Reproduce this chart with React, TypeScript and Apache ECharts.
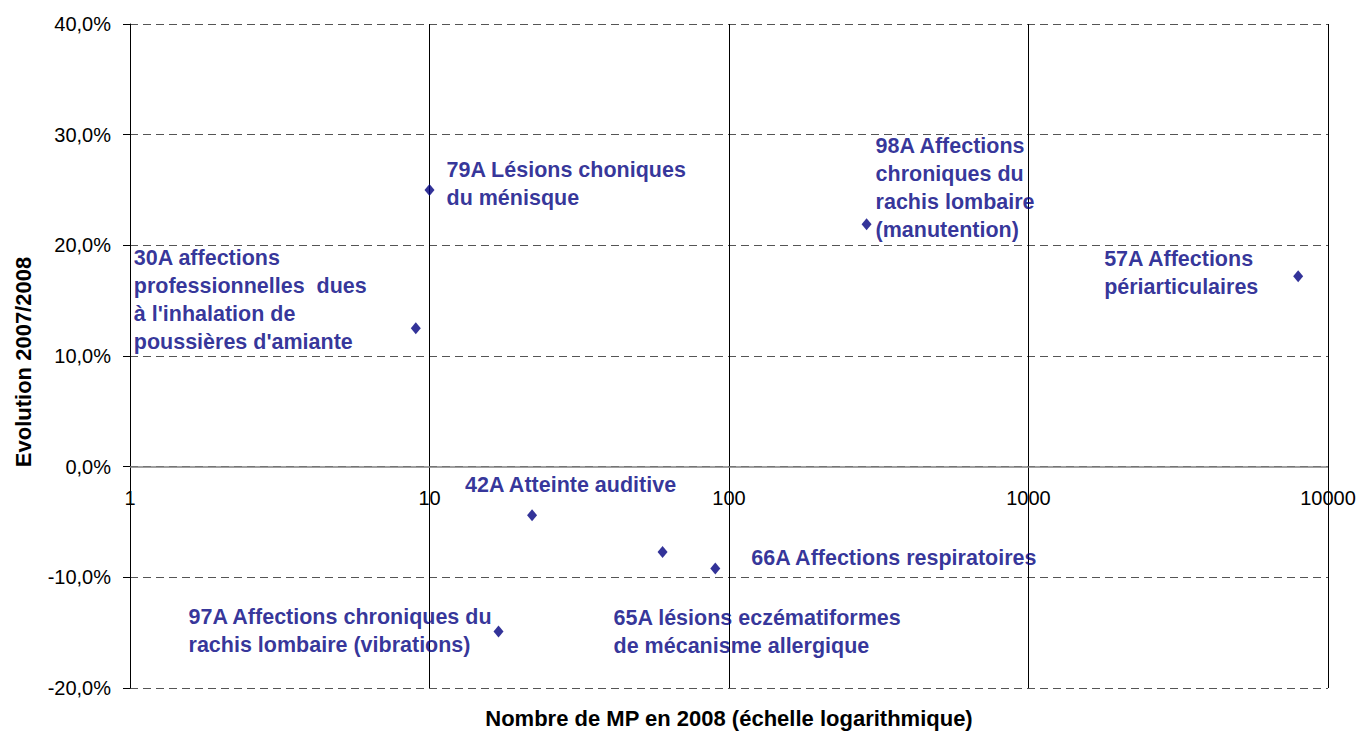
import React, { useEffect, useRef } from "react";
import * as echarts from "echarts";

// Data
const codes = ["30A", "79A", "98A", "57A", "42A", "65A", "66A", "97A"];
const labels = [
  "30A affections\nprofessionnelles  dues\nà l'inhalation de\npoussières d'amiante",
  "79A Lésions choniques\ndu ménisque",
  "98A Affections\nchroniques du\nrachis lombaire\n(manutention)",
  "57A Affections\npériarticulaires",
  "42A Atteinte auditive",
  "65A lésions eczématiformes\nde mécanisme allergique",
  "66A Affections respiratoires",
  "97A Affections chroniques du\nrachis lombaire (vibrations)",
];
const nbMP2008 = [9, 10, 288, 7950, 22, 60, 90, 17];
const evolution = [12.5, 25.0, 21.9, 17.2, -4.4, -7.7, -9.2, -14.9];

const xTicks = [1, 10, 100, 1000, 10000];
const yMin = -20;
const yMax = 40;
const yStep = 10;

// label placement offsets (pixels, relative to the marker)
const labelOffsets: Record<string, [number, number]> = {
  "30A": [-282, -84],
  "79A": [17, -34],
  "98A": [9, -92],
  "57A": [-194, -31],
  "42A": [-67, -44],
  "65A": [-49, 52],
  "66A": [36, -24],
  "97A": [-310, -29],
};

const FONT = "'Liberation Sans', Arial, sans-serif";
const NAVY = "#000080";

export default function App() {
  const ref = useRef<HTMLDivElement>(null);

  useEffect(() => {
    if (!ref.current) return;
    const chart = echarts.init(ref.current, undefined, { renderer: "svg" });

    const data = codes.map((c, i) => ({
      name: c,
      value: [nbMP2008[i], evolution[i]],
      label: {
        show: true,
        position: "inside" as const,
        offset: labelOffsets[c],
        align: "left" as const,
        verticalAlign: "top" as const,
        formatter: labels[i],
      },
    }));

    chart.setOption({
      animation: false,
      backgroundColor: "#ffffff",
      textStyle: { fontFamily: FONT },
      grid: {
        left: 130,
        right: 31,
        top: 24,
        bottom: 46,
        containLabel: false,
        outerBoundsMode: "none",
      },
      xAxis: {
        type: "log",
        logBase: 10,
        min: xTicks[0],
        max: xTicks[xTicks.length - 1],
        name: "Nombre de MP en 2008 (échelle logarithmique)",
        nameLocation: "middle",
        nameGap: 19,
        nameTextStyle: { fontFamily: FONT, fontSize: 22, fontWeight: "bold", color: "#000" },
        axisLine: { show: false },
        axisTick: { show: false },
        axisLabel: {
          fontFamily: FONT,
          fontSize: 20,
          color: "#000",
          margin: -200,
          formatter: (v: number) => String(Math.round(v)),
        },
        splitLine: { show: true, lineStyle: { color: "#000", width: 1, type: "solid" } },
      },
      yAxis: {
        type: "value",
        min: yMin,
        max: yMax,
        interval: yStep,
        name: "Evolution 2007/2008",
        nameLocation: "middle",
        nameGap: 96,
        nameRotate: 90,
        nameTextStyle: {
          fontFamily: FONT,
          fontSize: 22,
          fontWeight: "bold",
          color: "#000",
          padding: [0, 12, 0, 0],
        },
        axisLine: { show: true, onZero: false, lineStyle: { color: "#000", width: 1 } },
        axisTick: { show: true, inside: false, length: 7, lineStyle: { color: "#000" } },
        axisLabel: {
          fontFamily: FONT,
          fontSize: 20,
          color: "#000",
          margin: 19,
          formatter: (v: number) => v.toFixed(1).replace(".", ",") + "%",
        },
        splitLine: { show: true, lineStyle: { color: "#555", width: 1, type: [8, 5] } },
      },
      series: [
        {
          type: "scatter",
          symbol: "diamond",
          symbolSize: [10, 12],
          itemStyle: { color: NAVY },
          label: {
            show: true,
            color: NAVY,
            fontFamily: FONT,
            fontSize: 21.5,
            fontWeight: "bold",
            lineHeight: 28,
          },
          markLine: {
            silent: true,
            symbol: "none",
            label: { show: false },
            lineStyle: { color: "#808080", width: 1.5, type: "solid" },
            data: [{ yAxis: 0 }],
            z: 3,
          },
          data,
          z: 5,
        },
      ],
    });

    return () => chart.dispose();
  }, []);

  return (
    <div
      ref={ref}
      style={{ position: "absolute", left: 0, top: 0, width: 1359, height: 734 }}
    />
  );
}
